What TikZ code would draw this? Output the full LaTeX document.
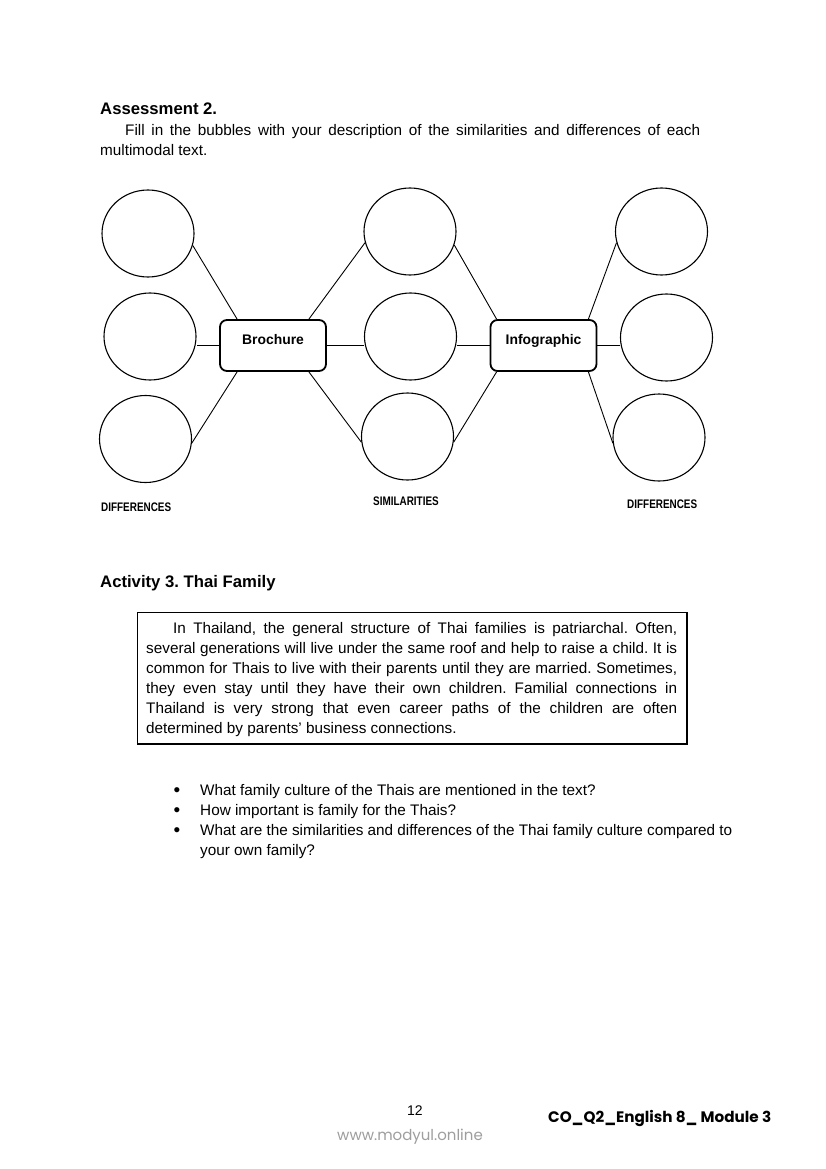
\documentclass[tikz,border=0pt]{standalone}
\usepackage{fontspec}
\setmainfont{Liberation Sans}
\newfontfamily\narrowfont{Liberation Sans}[FakeStretch=0.8]
\newfontfamily\footfont{Poppins}
\usetikzlibrary{shapes.geometric}
\frenchspacing
\begin{document}
\begin{tikzpicture}[x=1pt,y=-1pt,
  bubble/.style={ellipse, draw, line width=1.1pt, minimum width=92pt, minimum height=87pt, inner sep=0pt},
  mainbox/.style={draw, line width=1.8pt, rounded corners=7pt, minimum width=106pt, minimum height=51pt, inner sep=0pt,
    font=\fontsize{13.9}{16}\selectfont\bfseries, text height=10pt, text depth=12pt},
  link/.style={line width=0.9pt},
  body/.style={anchor=base west, inner sep=0pt, font=\fontsize{15.3}{20}\selectfont},
  bul/.style={anchor=base west, inner sep=0pt, font=\fontsize{19}{20}\selectfont},
  head/.style={anchor=base west, inner sep=0pt, font=\fontsize{16.7}{20}\selectfont\bfseries},
  tag/.style={anchor=base west, inner sep=0pt, font=\narrowfont\bfseries\fontsize{12.4}{14}\selectfont},
  frame/.style={draw, line width=1.3pt, inner sep=0pt},
]
\path[use as bounding box, fill=white] (0,0) rectangle (826,1169);

% ---------- Assessment 2 ----------
\node[head] (h1) at (100,115) {Assessment 2.};
\node[body] (i1) at (125,136) {\makebox[575pt][s]{Fill in the bubbles with your description of the similarities and differences of each}};
\node[body] (i2) at (100,156) {multimodal text.};

% bubbles
\node[bubble] (eL1) at (148,233.5) {};
\node[bubble] (eL2) at (150,336.5) {};
\node[bubble] (eL3) at (145.5,439) {};
\node[bubble] (eM1) at (410,231.5) {};
\node[bubble] (eM2) at (410.5,336.5) {};
\node[bubble] (eM3) at (407.5,436.5) {};
\node[bubble] (eR1) at (661.5,231.5) {};
\node[bubble] (eR2) at (666.5,337.5) {};
\node[bubble] (eR3) at (659,437.5) {};

% central boxes
\node[mainbox] (b1) at (273,345.5) {Brochure};
\node[mainbox] (b2) at (543.5,345.5) {Infographic};

% connectors - Brochure
\draw[link] ([xshift=18pt]b1.north west) -- (eL1.-15);
\draw[link] (b1.west) -- (eL2.east |- b1.west);
\draw[link] ([xshift=18pt]b1.south west) -- (eL3.-5);
\draw[link] ([xshift=-18pt]b1.north east) -- (eM1.194);
\draw[link] (b1.east) -- (eM2.west |- b1.east);
\draw[link] ([xshift=-18pt]b1.south east) -- (eM3.187);
% connectors - Infographic
\draw[link] ([xshift=7pt]b2.north west) -- (eM1.-17);
\draw[link] (b2.west) -- (eM2.east |- b2.west);
\draw[link] ([xshift=7pt]b2.south west) -- (eM3.-7);
\draw[link] ([xshift=-9pt]b2.north east) -- (eR1.194);
\draw[link] (b2.east) -- (eR2.west |- b2.east);
\draw[link] ([xshift=-9pt]b2.south east) -- (eR3.187);

% labels
\node[tag] (d1) at (101,511) {DIFFERENCES};
\node[tag] (sim) at (373,505) {SIMILARITIES};
\node[tag] (d2) at (627,508) {DIFFERENCES};

% ---------- Activity 3 ----------
\node[head] (h2) at (100,587) {Activity 3. Thai Family};
\node[frame, minimum width=549.5pt, minimum height=131.5pt] (fr) at (412.25,678.25) {};
\node[body] (p1) at (173,633) {\makebox[504pt][s]{In Thailand, the general structure of Thai families is patriarchal. Often,}};
\node[body] (p2) at (146,653) {\makebox[531pt][s]{several generations will live under the same roof and help to raise a child. It is}};
\node[body] (p3) at (146,673) {\makebox[531pt][s]{common for Thais to live with their parents until they are married. Sometimes,}};
\node[body] (p4) at (146,693) {\makebox[531pt][s]{they even stay until they have their own children. Familial connections in}};
\node[body] (p5) at (146,713) {\makebox[531pt][s]{Thailand is very strong that even career paths of the children are often}};
\node[body] (p6) at (146,733) {determined by parents’ business connections.};

% questions
\node[bul] (bu1) at (173.5,796) {\textbullet};
\node[body] (q1) at (200,795) {What family culture of the Thais are mentioned in the text?};
\node[bul] (bu2) at (173.5,816) {\textbullet};
\node[body] (q2) at (200,815) {How important is family for the Thais?};
\node[bul] (bu3) at (173.5,836) {\textbullet};
\node[body] (q3) at (200,835) {What are the similarities and differences of the Thai family culture compared to};
\node[body] (q3b) at (200,855) {your own family?};

% ---------- footer ----------
\node[anchor=base west, inner sep=0pt, font=\fontsize{14}{16}\selectfont] (pg) at (407,1115) {12};
\node[anchor=base west, inner sep=0pt, font=\footfont\bfseries\fontsize{15.2}{18}\selectfont] (ft) at (548,1122) {CO\_Q2\_English 8\_ Module 3};
\node[anchor=base west, inner sep=0pt, text=black!38, font=\footfont\fontsize{15}{18}\selectfont] (wm) at (337,1140) {www.modyul.online};
\end{tikzpicture}
\end{document}
